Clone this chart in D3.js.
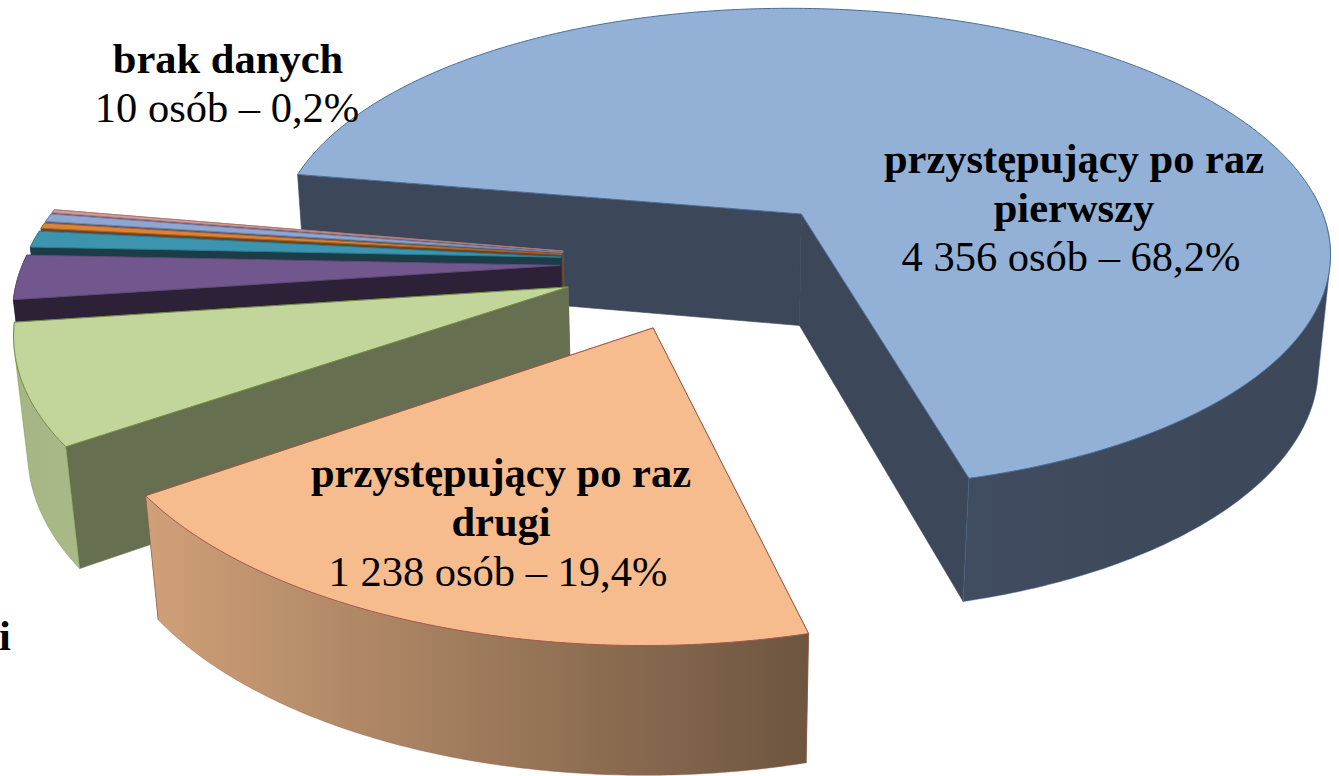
<!DOCTYPE html>
<html>
<head>
<meta charset="utf-8">
<style>
  html, body { margin: 0; padding: 0; background: #fff; overflow: hidden; }
  svg { display: block; }
  text { font-family: "Liberation Serif", serif; font-size: 42.5px; fill: #000; text-anchor: middle; }
  text.bold { font-weight: bold; }
</style>
<script src="https://cdn.jsdelivr.net/npm/d3@7"></script>
</head>
<body>
<svg id="chart" width="1339" height="776"></svg>
<script>
// shares in percent, clockwise from the big slice (small ones)
var categories = ['po raz pierwszy', 'po raz drugi', 'po raz trzeci', 'czwarty', 'piaty', 'szosty', 'siodmy', 'brak danych'];
var shares = [68.2, 19.4, 7.5, 2.8, 1.05, 0.35, 0.5, 0.2];
var topColors = ['#93b1d6', '#f7bc8d', '#c2d59a', '#71578e', '#3d94ae', '#db8439', '#8fa6d3', '#d49c9a'];
var wallColors = ['#3c4859', '#6d5540', '#667050', '#2c2137', '#1a3d48', '#6c441f', '#4a5670', '#6a4d4c'];
var outerFrom = ['#404c5f', '#d0a078', '#a5b584', '#2c2137', '#1a3d48', '#6c441f', '#4a5670', '#6a4d4c'];
var outerTo = ['#3c4859', '#6d5540', '#aab988', '#2c2137', '#1a3d48', '#6c441f', '#4a5670', '#6a4d4c'];
var edgeColors = ['#4a6d9c', '#a5584a', '#74903f', '#5f4a7a', '#2f7d94', '#a8622a', '#6f86b0', '#b07a78'];

var labelLines = [
  { x: 1074, y: 173, text: 'przystępujący po raz', bold: true },
  { x: 1074, y: 222, text: 'pierwszy', bold: true },
  { x: 1071, y: 271, text: '4 356 osób – 68,2%', bold: false },
  { x: 501, y: 487, text: 'przystępujący po raz', bold: true },
  { x: 501, y: 536, text: 'drugi', bold: true },
  { x: 498, y: 586, text: '1 238 osób – 19,4%', bold: false },
  { x: 228, y: 73, text: 'brak danych', bold: true },
  { x: 227, y: 122, text: '10 osób – 0,2%', bold: false },
  { x: 5, y: 650, text: 'i', bold: true }
];

// ground plane -> screen, fitted to the corners of the slices
var centerX = 705.6, centerY = 262.2;
var scaleX = 536.9, scaleY = 249.2;
var perspective = 0.1475, explode = 0.2707;
var depth = 116, depthShrink = 0.02;
var firstAngle = 279.92 * Math.PI / 180;

function project(u, v, bottom) {
  var w = 1 - perspective * v + (bottom ? depthShrink : 0);
  return [centerX + scaleX * u / w, centerY + (scaleY * v + (bottom ? depth : 0)) / w];
}

var pie = d3.pie().sort(null)
  .startAngle(firstAngle)
  .endAngle(firstAngle + 2 * Math.PI);

var slices = pie(shares).map(function(d, i) {
  var mid = (d.startAngle + d.endAngle) / 2;
  return {
    index: i,
    start: d.startAngle,
    end: d.endAngle,
    cu: explode * Math.sin(mid),
    cv: -explode * Math.cos(mid)
  };
});

var line = d3.line();
var svg = d3.select('#chart');
var defs = svg.append('defs');

function arcPoints(s, bottom) {
  var n = Math.max(2, Math.ceil((s.end - s.start) / 0.01));
  return d3.range(n + 1).map(function(k) {
    var t = s.start + (s.end - s.start) * k / n;
    return project(s.cu + Math.sin(t), s.cv - Math.cos(t), bottom);
  });
}

function apex(s, bottom) {
  return project(s.cu, s.cv, bottom);
}

slices.forEach(function(s) {
  var g = defs.append('linearGradient').attr('id', 'outer' + s.index);
  g.append('stop').attr('offset', 0).attr('stop-color', outerFrom[s.index]);
  g.append('stop').attr('offset', 1).attr('stop-color', outerTo[s.index]);
});

// painter's order: blue at the back, then round from the thin slices to the front
var order = [0, 7, 6, 5, 4, 3, 2, 1];

order.forEach(function(i) {
  var s = slices[i];
  var top = arcPoints(s, false);
  var bot = arcPoints(s, true);
  var group = svg.append('g').attr('class', 'slice').datum(categories[i]);

  // radial walls
  [top[0], top[top.length - 1]].forEach(function(corner, k) {
    var bottomCorner = k === 0 ? bot[0] : bot[bot.length - 1];
    group.append('path')
      .attr('d', line([apex(s, false), corner, bottomCorner, apex(s, true)]) + 'Z')
      .attr('fill', wallColors[i])
      .attr('stroke', wallColors[i])
      .attr('stroke-width', 0.6);
  });

  // outer curved wall: hull of both rims so the tangent side is covered too,
  // the top face then paints over the part inside the rim
  var rim = [];
  top.forEach(function(p, k) {
    var t = s.start + (s.end - s.start) * k / (top.length - 1);
    if (Math.cos(t) < 0.1 || i !== 0) {
      rim.push(p);
      rim.push(bot[k]);
    }
  });
  group.append('path')
    .attr('d', line(d3.polygonHull(rim)) + 'Z')
    .attr('fill', 'url(#outer' + i + ')')
    .attr('stroke', i < 3 ? edgeColors[i] : wallColors[i])
    .attr('stroke-opacity', 0.6)
    .attr('stroke-width', 0.8);

  // top face
  group.append('path')
    .attr('d', line([apex(s, false)].concat(top)) + 'Z')
    .attr('fill', topColors[i])
    .attr('stroke', edgeColors[i])
    .attr('stroke-width', 1);
});

svg.selectAll('text.label').data(labelLines).enter()
  .append('text')
    .attr('class', function(d) { return d.bold ? 'label bold' : 'label'; })
    .attr('x', function(d) { return d.x; })
    .attr('y', function(d) { return d.y; })
    .text(function(d) { return d.text; });
</script>
</body>
</html>
